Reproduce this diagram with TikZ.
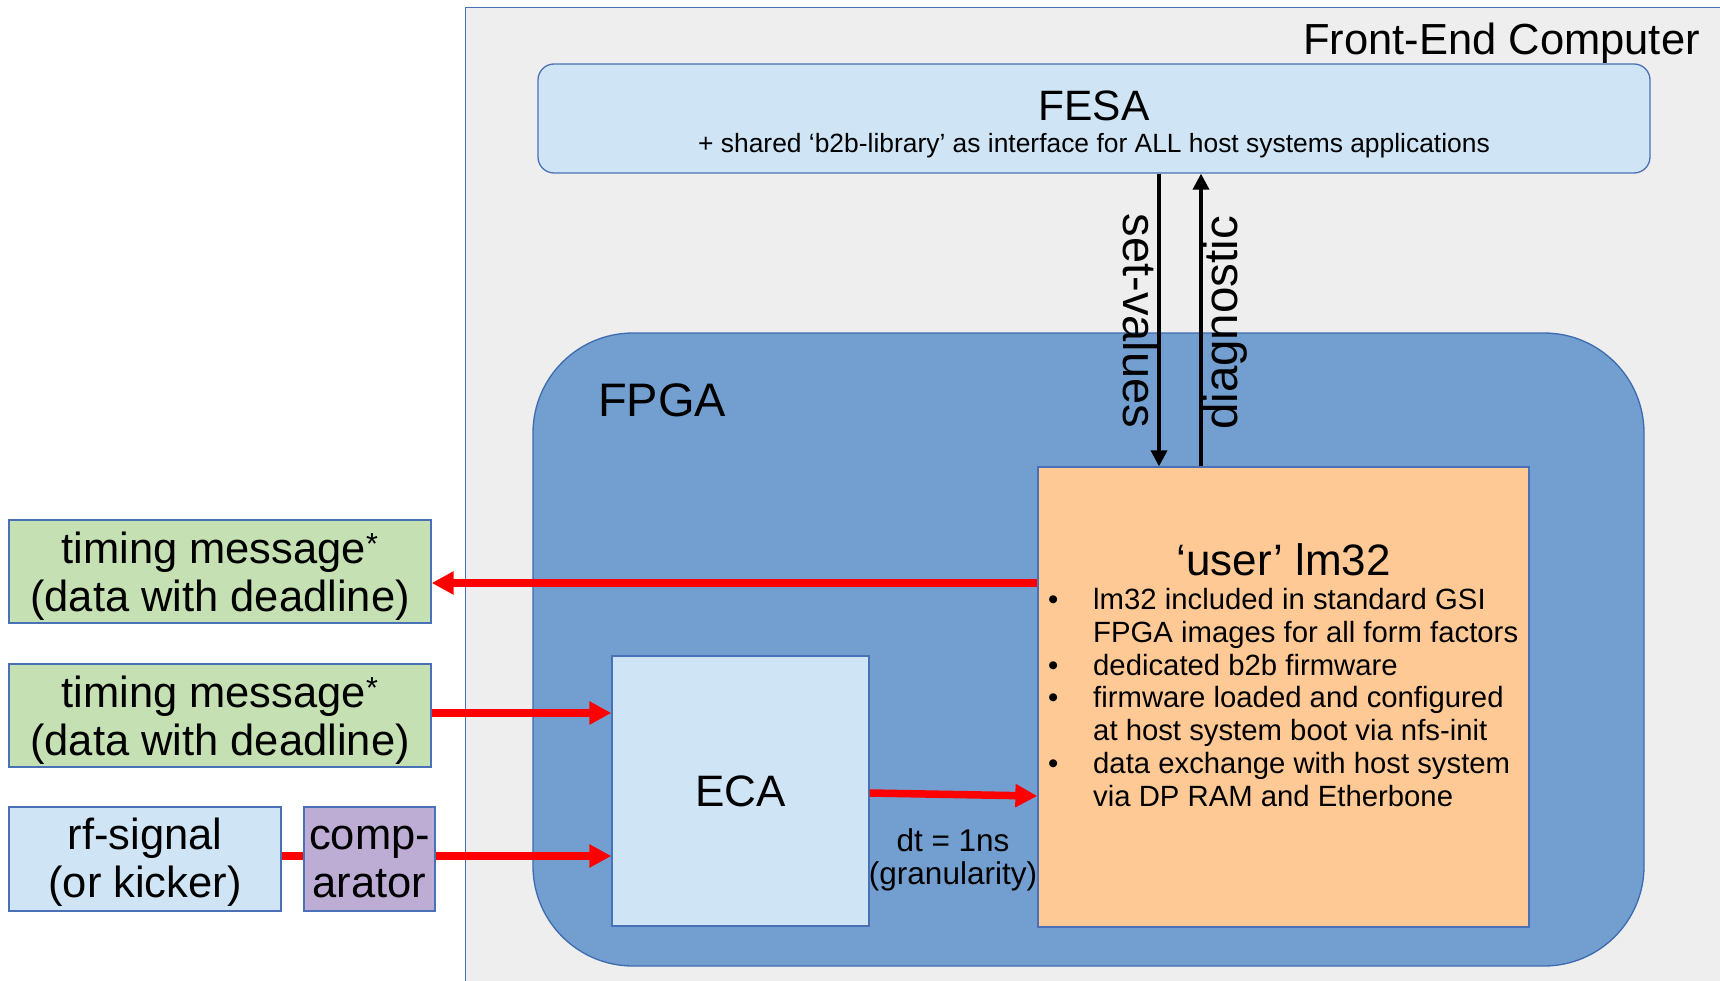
\documentclass[tikz,border=0pt]{standalone}
\usepackage{fontspec}
\setmainfont{Liberation Sans}
\usetikzlibrary{arrows.meta,calc}
\definecolor{panelgray}{HTML}{EEEEEE}
\definecolor{edgeblue}{HTML}{4A70B8}
\definecolor{fpgablue}{HTML}{729FCF}
\definecolor{fpgaedge}{HTML}{3D6BB0}
\definecolor{paleblue}{HTML}{CFE4F4}
\definecolor{palegreen}{HTML}{C5E0B2}
\definecolor{lilac}{HTML}{BDADD5}
\definecolor{peach}{HTML}{FFC996}
\definecolor{signalred}{HTML}{FF0000}
\newcommand\fs[2]{\fontsize{#1}{#2}\selectfont}

\begin{document}
\begin{tikzpicture}[x=1pt,y=-1pt,
  block/.style={draw=edgeblue, line width=1.3pt, inner sep=0pt, align=center},
  boxtext/.style={font=\fs{43.5}{48}, align=center, inner sep=0pt},
  redarrow/.style={draw=signalred, line width=7.5pt, -{Triangle[length=22pt,width=22pt]}},
  redline/.style={draw=signalred, line width=7.5pt},
  blackarrow/.style={draw=black, line width=3.5pt, -{Triangle[length=16pt,width=16pt]}},
]
\useasboundingbox (0,0) rectangle (1720,981);

% front-end computer panel
\node[block, fill=panelgray, anchor=north west, minimum width=1300pt, minimum height=1010pt] (fec) at (465,7) {};
\node[anchor=base east, font=\fs{43.5}{43.5}, inner sep=0pt] (feclabel) at (1700,55) {Front-End Computer};

% FESA layer
\node[block, fill=paleblue, rounded corners=16pt, minimum width=1112pt, minimum height=109pt] (fesa) at (1094,118.5) {};
\node[anchor=base, font=\fs{42.5}{42.5}, inner sep=0pt] (fesatitle) at (1094,121) {FESA};
\node[anchor=base, font=\fs{26.4}{26.4}, inner sep=0pt] (fesasub) at (1094,153) {+ shared ‘b2b-library’ as interface for ALL host systems applications};

% FPGA
\node[draw=fpgaedge, line width=1.3pt, fill=fpgablue, rounded corners=100pt, minimum width=1111pt, minimum height=633pt, inner sep=0pt] (fpga) at (1088.5,649.5) {};
\node[anchor=base west, font=\fs{47}{47}, inner sep=0pt] (fpgalabel) at (598,416) {FPGA};

% user lm32
\node[block, fill=peach, minimum width=491pt, minimum height=460pt] (lm32) at (1283.5,697) {};
\node[anchor=base, font=\fs{44}{44}, inner sep=0pt] (lmtitle) at (1283.5,575) {‘user’ lm32};
% multi-line node: base anchor sits on the last line
\node[anchor=base west, align=left, font=\fs{29.3}{32.7}, inner sep=0pt] (lmlist) at (1048,806) {%
\makebox[45pt][l]{•}lm32 included in standard GSI\\
\makebox[45pt][l]{}FPGA images for all form factors\\
\makebox[45pt][l]{•}dedicated b2b firmware\\
\makebox[45pt][l]{•}firmware loaded and configured\\
\makebox[45pt][l]{}at host system boot via nfs-init\\
\makebox[45pt][l]{•}data exchange with host system\\
\makebox[45pt][l]{}via DP RAM and Etherbone};

% ECA
\node[block, fill=paleblue, minimum width=257pt, minimum height=270pt, font=\fs{44}{44}] (eca) at (740.5,791) {ECA};
\node[anchor=base, align=center, font=\fs{31.5}{33}, inner sep=0pt] (gran) at (953,884) {dt = 1ns\\(granularity)};

% external sources and sinks
\node[block, fill=palegreen, minimum width=422pt, minimum height=103pt] (tm1) at (220,571.5) {};
\node[boxtext] (tm1text) at ([yshift=-4.5pt]tm1.center) {timing message\textsuperscript{*}\\(data with deadline)};
\node[block, fill=palegreen, minimum width=422pt, minimum height=103pt] (tm2) at (220,715.5) {};
\node[boxtext] (tm2text) at ([yshift=-4.5pt]tm2.center) {timing message\textsuperscript{*}\\(data with deadline)};
\node[block, fill=paleblue, minimum width=272pt, minimum height=104pt] (rf) at (145,859) {};
\node[boxtext] (rftext) at ([yshift=-3pt]rf.center) {rf-signal\\(or kicker)};
\node[block, fill=lilac, minimum width=131pt, minimum height=104pt] (comp) at (369.5,859) {};
\node[boxtext] (comptext) at ([yshift=-3pt]comp.center) {comp-\\arator};

% signal paths
\coordinate (outTM) at ([yshift=-11.5pt]tm1.east);
\coordinate (inTM) at ([yshift=2.5pt]tm2.east);
\coordinate (rfout) at ([yshift=3pt]rf.east);
\draw[redarrow] (outTM -| lm32.west) -- (outTM);
\draw[redarrow] (inTM) -- (inTM -| eca.west);
\draw[redline] (rfout) -- (rfout -| comp.west);
\draw[redarrow] (rfout -| comp.east) -- (rfout -| eca.west);
\draw[redarrow] ([yshift=-2pt]eca.east) -- ([yshift=-99pt]lm32.west);

% host interface
\coordinate (svtop) at ([xshift=65pt]fesa.south);
\coordinate (dgtop) at ([xshift=107pt]fesa.south);
\draw[blackarrow] (svtop) -- (svtop |- lm32.north);
\draw[blackarrow] (dgtop |- lm32.north) -- (dgtop);
\node[rotate=-90, anchor=base, font=\fs{47}{47}, inner sep=0pt] (svlabel) at (1123,321) {set-values};
\node[rotate=90, anchor=base, font=\fs{47.5}{47.5}, inner sep=0pt] (dglabel) at (1237,323) {diagnostic};
\end{tikzpicture}
\end{document}
